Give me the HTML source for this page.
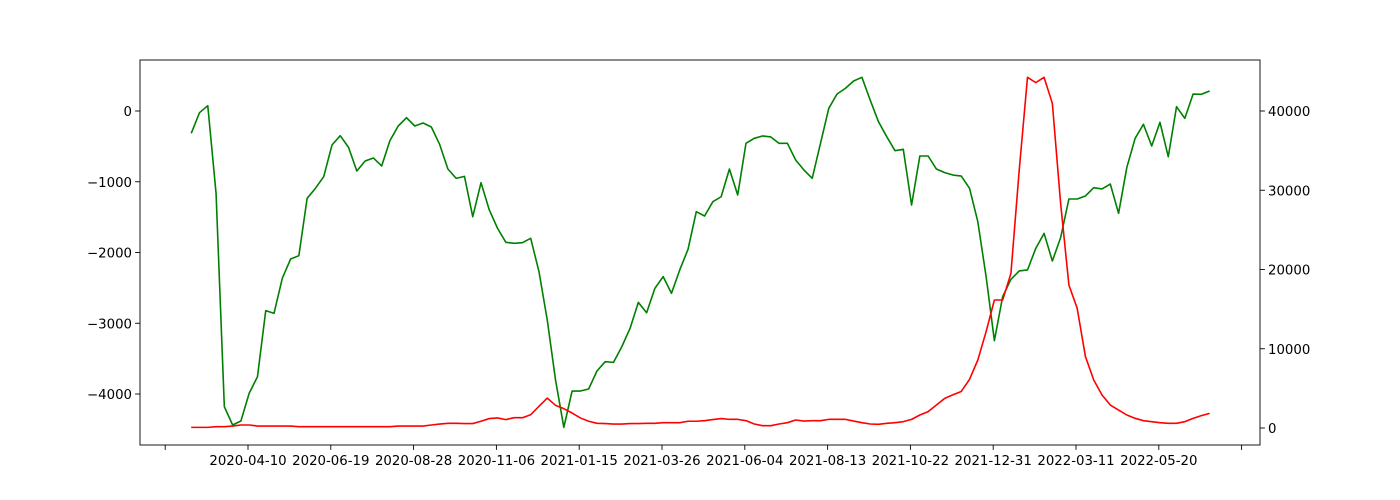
<!DOCTYPE html>
<html><head><meta charset="utf-8"><style>
html,body{margin:0;padding:0;background:#fff;width:1400px;height:500px;overflow:hidden}
svg text{font-family:"DejaVu Sans","Liberation Sans",sans-serif;font-size:13.3px;fill:#000}
</style></head><body>
<svg id="chart" width="1400" height="500" xmlns="http://www.w3.org/2000/svg"></svg>
<script>
const startDate = "2020-02-22";
const xTickLabels = ["", "2020-04-10","2020-06-19","2020-08-28","2020-11-06","2021-01-15","2021-03-26","2021-06-04","2021-08-13","2021-10-22","2021-12-31","2022-03-11","2022-05-20",""];
const leftTicks = [0,-1000,-2000,-3000,-4000];
const rightTicks = [0,10000,20000,30000,40000];
const greenValues = [-316,-24,75,-1163,-4180,-4438,-4382,-3990,-3756,-2822,-2860,-2365,-2092,-2045,-1234,-1093,-928,-481,-349,-514,-848,-707,-664,-777,-419,-212,-94,-212,-170,-226,-471,-820,-952,
-924,-1494,-1013,-1399,-1659,-1856,-1870,-1861,-1800,-2271,-2954,-3802,-4471,-3958,-3958,-3929,-3675,-3543,-3553,-3332,-3072,-2705,-2851,-2506,-2341,-2577,-2247,-1955,-1423,-1484,-1282,-1212,-820,
-1187,-457,-386,-353,-367,-457,-457,-693,-834,-952,-457,38,240,320,424,476,155,-151,-363,-561,-542,-1329,-636,-636,-820,-871,-905,-919,-1093,-1565,-2341,-3246,
-2624,-2379,-2261,-2247,-1941,-1729,-2120,-1790,-1244,-1244,-1201,-1084,-1102,-1032,-1446,-796,-386,-188,-495,-160,-646,61,-104,240,236,283];
const redValues = [80,80,80,170,170,250,380,380,250,250,250,250,250,170,170,170,170,170,170,170,170,170,170,170,170,250,250,250,250,380,500,590,590,
560,560,850,1190,1270,1060,1300,1300,1680,2730,3780,2860,2440,1890,1270,850,590,560,500,500,560,560,590,590,670,670,670,850,850,925,1060,1190,1090,
1090,925,505,290,290,505,670,1010,880,925,925,1090,1090,1090,880,670,505,460,590,670,800,1090,1640,2060,2900,3740,4190,4610,6140,8580,12150,16150,
16150,19520,32550,44250,43580,44250,40970,28350,18040,15100,9000,6060,4160,2900,2270,1640,1220,925,800,670,590,590,800,1220,1560,1850];

const NS="http://www.w3.org/2000/svg";
const svg=document.getElementById('chart');
const L=140,R=1260,T=60,B=445;
const DAY=86400000;
const t0=Date.parse(startDate);
const tRef=Date.parse("2020-04-10");
function xScale(ms){return 248+(ms-tRef)/DAY/70*82.8;}
function xIdx(i){return xScale(t0+i*7*DAY);}
function yL(v){return 111-v*0.07075;}
function yR(v){return 428-v*0.007925;}
function mk(tag,attrs){const e=document.createElementNS(NS,tag);for(const k in attrs)e.setAttribute(k,attrs[k]);svg.appendChild(e);return e;}

function line(vals,ys,color,name){
  const d=vals.map((v,i)=>(i?'L':'M')+xIdx(i).toFixed(2)+','+ys(v).toFixed(2)).join('');
  const p=mk('path',{d:d,fill:'none',stroke:color,'stroke-width':'1.6','stroke-linejoin':'round'});
  
  
}
line(greenValues,yL,'#008000','green-series-line');
line(redValues,yR,'#ff0000','red-series-line');

const f=mk('rect',{x:L,y:T,width:R-L,height:B-T,fill:'none',stroke:'#000','stroke-width':'0.9'});



xTickLabels.forEach((lab,k)=>{
  const x=248+(k-1)*82.8;
  const tk=mk('line',{x1:x,x2:x,y1:B,y2:B+4.9,stroke:'#000','stroke-width':'0.9'});
  
  
  if(lab){
    const t=mk('text',{x:x,y:B+20,'text-anchor':'middle'});t.textContent=lab;
    
    
  }
});
leftTicks.forEach(v=>{
  const y=yL(v);
  const tk=mk('line',{x1:L-4.9,x2:L,y1:y,y2:y,stroke:'#000','stroke-width':'0.9'});
  
  
  const t=mk('text',{x:L-8,y:y+5,'text-anchor':'end'});t.textContent=String(v).replace('-','\u2212');
  
  
});
rightTicks.forEach(v=>{
  const y=yR(v);
  const tk=mk('line',{x1:R,x2:R+4.9,y1:y,y2:y,stroke:'#000','stroke-width':'0.9'});
  
  
  const t=mk('text',{x:R+8,y:y+5,'text-anchor':'start'});t.textContent=String(v);
  
  
});
</script>
</body></html>
